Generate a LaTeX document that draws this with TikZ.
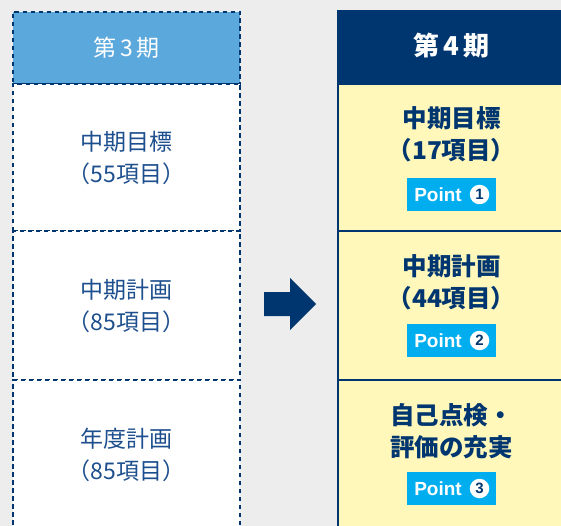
\documentclass[tikz,border=0pt]{standalone}
\usepackage{fontspec}
\usepackage{tikz}
\newfontfamily\jpfont{Noto Sans CJK JP}
\newfontfamily\pointfont{Liberation Sans}
\definecolor{navy}{HTML}{003670}
\definecolor{oldblue}{HTML}{5BA8DC}
\definecolor{oldtext}{HTML}{1D4F8E}
\definecolor{newfill}{HTML}{FFF8BA}
\definecolor{pointblue}{HTML}{00AEEF}
\definecolor{bggray}{HTML}{EDEDED}

\begin{document}
\begin{tikzpicture}
[x=1pt,y=-1pt,
oldcell/.style={draw=navy,line width=1.4pt,dash pattern=on 4.5pt off 3.5pt,fill=white,minimum width=227pt,inner sep=0pt,
  font=\jpfont\fontsize{23}{32}\selectfont,text=oldtext,align=center},
newcell/.style={draw=navy,line width=2pt,fill=newfill,minimum width=240pt,inner sep=0pt},
newtext/.style={font=\jpfont\bfseries\fontsize{24.5}{32}\selectfont,text=navy,align=center},
pointbox/.style={fill=pointblue,minimum width=89pt,minimum height=33pt,inner sep=0pt},
pointtext/.style={font=\pointfont\bfseries\fontsize{19}{19}\selectfont,text=white,inner sep=0pt},
pointnum/.style={circle,fill=white,minimum size=19.5pt,inner sep=0pt,font=\pointfont\bfseries\fontsize{15}{15}\selectfont,text=navy}]
\fill[bggray] (0,0) rectangle (561,526);
\useasboundingbox (0,0) rectangle (561,526);
% left column
\node[oldcell,fill=oldblue,text=white,minimum height=72pt] (h3) at (126.5,48) {第\,3\,期};
\node[oldcell,minimum height=147pt] (o1) at (126.5,157.5) {中期目標\\（55項目）};
\node[oldcell,minimum height=149pt] (o2) at (126.5,305.5) {中期計画\\（85項目）};
\node[oldcell,minimum height=150pt] (o3) at (126.5,455) {年度計画\\（85項目）};
% arrow
\fill[navy] (264,292) -- (290,292) -- (290,278) -- (316,304) -- (290,330) -- (290,316) -- (264,316) -- cycle;
% right column
\node[newcell,fill=navy,minimum height=73pt] (h4) at (458,47.5) {};
\node[newtext,text=white,font=\jpfont\bfseries\fontsize{26}{30}\selectfont] (th4) at (451.5,46) {第\,4\,期};
\node[newcell,minimum height=147pt] (m1) at (458,157.5) {};
\node[newcell,minimum height=149pt] (m2) at (458,305.5) {};
\node[newcell,minimum height=150pt] (m3) at (458,455) {};
\node[newtext] (t1) at (451.5,134) {中期目標\\（17項目）};
\node[newtext] (t2) at (451.5,282) {中期計画\\（44項目）};
\node[newtext] (t3) at (451.5,431) {自己点検・\\評価の充実};
\foreach \n/\y in {1/194.5,2/340.5,3/488.5}{
\node[pointbox] (p\n) at (451.5,\y) {};
\node[pointtext] (pt\n) at ([xshift=-13.5pt]p\n.center) {Point};
\node[pointnum] (n\n) at ([xshift=28pt]p\n.center) {\n};
}
\end{tikzpicture}
\end{document}
